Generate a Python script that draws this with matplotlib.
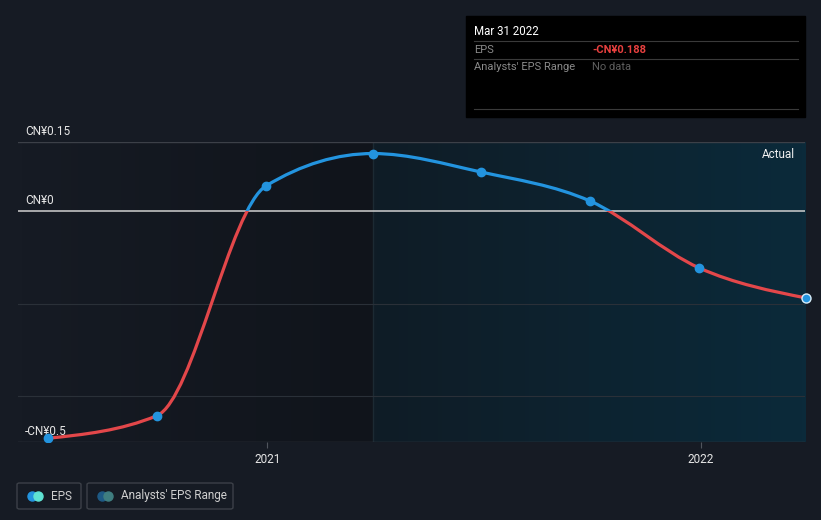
import numpy as np
import pandas as pd
import matplotlib
matplotlib.use('Agg')
import matplotlib.pyplot as plt
import matplotlib.dates as mdates
from matplotlib.path import Path
from matplotlib.patches import PathPatch, Rectangle, FancyBboxPatch
from matplotlib.colors import LinearSegmentedColormap
from matplotlib.lines import Line2D

plt.rcParams['font.family'] = ['Roboto', 'DejaVu Sans']

# données
dates = ["2020-06-30", "2020-09-30", "2020-12-31", "2021-03-31",
         "2021-06-30", "2021-09-30", "2021-12-31", "2022-03-31"]
eps = [-0.492, -0.443, 0.055, 0.125, 0.085, 0.022, -0.123, -0.188]
y_labels = [0.15, 0, -0.5]
y_label_txt = ["CN¥0.15", "CN¥0", "-CN¥0.5"]
grid_vals = [-0.2, -0.4]
x_ticks = ["2021-01-01", "2022-01-01"]
x_tick_txt = ["2021", "2022"]
actual_start = "2021-03-31"
x_range = ["2020-06-05", "2022-03-30"]
y_range = [-0.5, 0.15]

bg = '#161b24'
blue = '#2394df'
red = '#e3474a'

x = mdates.date2num(pd.to_datetime(dates))
y = np.array(eps)
xmin, xmax = mdates.date2num(pd.to_datetime(x_range))
xa = mdates.date2num(pd.to_datetime(actual_start))

fig = plt.figure(figsize=(8.21, 5.20), dpi=100, facecolor=bg)
ax = fig.add_axes([18/821, (520-442)/520, 787/821, 300/520])
ax.set_facecolor(bg)
ax.set_xlim(xmin, xmax)
ax.set_ylim(*y_range)
for s in ax.spines.values():
    s.set_visible(False)
ax.set_yticks([])
ax.set_xticks(mdates.date2num(pd.to_datetime(x_ticks)))
ax.set_xticklabels(x_tick_txt, color='#e6e6e6', fontsize=8.5)
ax.tick_params(axis='x', length=4, color='#50555d', pad=4)

# zones de fond (dégradés)
cm_left = LinearSegmentedColormap.from_list('l', [bg, '#10141b'])
ax.imshow(np.linspace(0, 1, 100).reshape(1, -1), cmap=cm_left, aspect='auto',
          extent=[xmin, xa, y_range[0], y_range[1]], zorder=0)
cm_right = LinearSegmentedColormap.from_list('r', ['#0f1c26', '#0b2a3a'])
ax.imshow(np.linspace(0, 1, 100).reshape(1, -1), cmap=cm_right, aspect='auto',
          extent=[xa, xmax, y_range[0], y_range[1]], zorder=0)
ax.axvline(xa, color='#1c2a33', lw=1, zorder=0.5)

# lignes horizontales
ax.axhline(y_range[1], color='#3c4048', lw=1, zorder=1)
ax.axhline(y_range[0], color='#3c4048', lw=1, zorder=1)
for g in grid_vals:
    ax.axhline(g, color='#2a3038', lw=0.8, zorder=1)
ax.axhline(0, color='#d0d0d0', lw=1.1, zorder=1)

for v, t in zip(y_labels, y_label_txt):
    ax.annotate(t, xy=(7/787, v), xycoords=('axes fraction', 'data'),
                xytext=(0, 2.8), textcoords='offset points', va='bottom',
                ha='left', color='#e6e6e6', fontsize=8.5)

ax.text(0.987, 0.96, "Actual", transform=ax.transAxes, ha='right', va='center',
        color='#f0f0f0', fontsize=8.5)

# courbe monotone (type d3 monotoneX)
h = np.diff(x)
s = np.diff(y) / h
m = np.zeros_like(y)
for i in range(1, len(y) - 1):
    p = (s[i-1] * h[i] + s[i] * h[i-1]) / (h[i-1] + h[i])
    m[i] = (np.sign(s[i-1]) + np.sign(s[i])) * min(abs(s[i-1]), abs(s[i]), 0.5 * abs(p))
m[0] = (3 * s[0] - m[1]) / 2
m[-1] = (3 * s[-1] - m[-2]) / 2

verts = [(x[0], y[0])]
codes = [Path.MOVETO]
for i in range(len(x) - 1):
    d = h[i] / 3
    verts += [(x[i] + d, y[i] + d * m[i]), (x[i+1] - d, y[i+1] - d * m[i+1]), (x[i+1], y[i+1])]
    codes += [Path.CURVE4] * 3
path = Path(verts, codes)

for col, yb in [(blue, 0), (red, -1)]:
    patch = PathPatch(path, fill=False, edgecolor=col, lw=2.3, zorder=3, capstyle='round')
    ax.add_patch(patch)
    clip = Rectangle((xmin - 100, yb), xmax - xmin + 200, 1, transform=ax.transData)
    patch.set_clip_path(clip)

ax.plot(x[:-1], y[:-1], 'o', color=blue, ms=6, zorder=4)
ax.plot(x[-1], y[-1], 'o', color=blue, ms=6.5, mec='#d8eefa', mew=1, zorder=4, clip_on=False)

# encadré info
fig.add_artist(Rectangle((466/821, 1 - 117/520), 339/821, 101/520,
                         transform=fig.transFigure, color='black', zorder=5))
fig.text(474/821, 1 - 31.5/520, "Mar 31 2022", color='white', fontsize=8.3,
         va='center', zorder=6)
for yy in [41.5, 58.5, 109]:
    fig.add_artist(Line2D([474/821, 798/821], [1 - yy/520] * 2, color='#3a3a3a',
                          lw=0.8, transform=fig.transFigure, zorder=6))
fig.text(474/821, 1 - 50/520, "EPS", color='#8a8a8a', fontsize=8, va='center', zorder=6)
fig.text(592/821, 1 - 50/520, "-CN¥0.188", color='#e8403f', fontsize=8,
         fontweight='bold', va='center', zorder=6)
fig.text(474/821, 1 - 67/520, "Analysts' EPS Range", color='#8a8a8a', fontsize=8,
         va='center', zorder=6)
fig.text(592/821, 1 - 67/520, "No data", color='#5e5e5e', fontsize=8, va='center', zorder=6)

# légende
def legend_box(x0, x1, c1, c2, label):
    fig.add_artist(FancyBboxPatch((x0/821, 1 - 509/520), (x1 - x0)/821, 26/520,
                                  boxstyle='round,pad=0,rounding_size=0.003',
                                  transform=fig.transFigure, facecolor='none',
                                  edgecolor='#3c4048', lw=1))
    fig.add_artist(Line2D([(x0 + 15)/821], [1 - 496/520], marker='o', ms=6.5, color=c1,
                          transform=fig.transFigure))
    fig.add_artist(Line2D([(x0 + 21)/821], [1 - 496/520], marker='o', ms=6.5, color=c2,
                          transform=fig.transFigure))
    fig.text((x0 + 34)/821, 1 - 496/520, label, color='#cfcfcf', fontsize=8.5, va='center')

legend_box(17, 81, blue, '#5fe3d3', "EPS")
legend_box(87, 233, '#1e5a85', '#3f7e80', "Analysts' EPS Range")

fig.savefig('out.png', dpi=100, facecolor=bg)
